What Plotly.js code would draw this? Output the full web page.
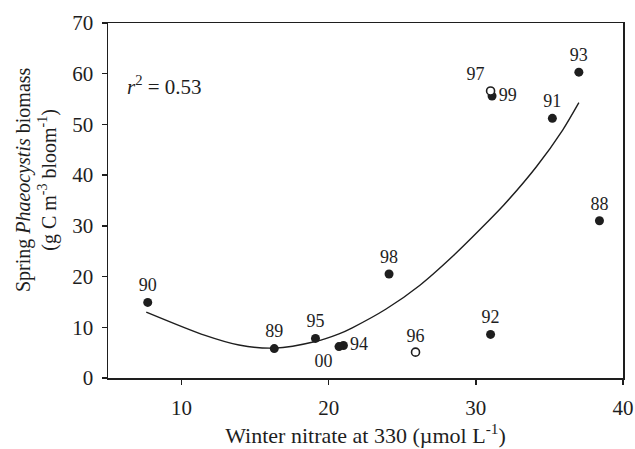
<!DOCTYPE html>
<html><head><meta charset="utf-8">
<script src="https://cdn.plot.ly/plotly-3.0.1.min.js"></script>
<style>html,body{margin:0;padding:0;background:#fff}</style>
</head><body><div id="chart" style="width:635px;height:449px"></div>
<script>
// Data
const years   = ['88','89','90','91','92','93','94','95','96','97','98','99','00'];
const nitrate = [38.4, 16.3, 7.7, 35.2, 31.0, 37.0, 21.0, 19.1, 25.9, 31.0, 24.1, 31.1, 20.7];
const biomass = [31.0, 5.8, 14.9, 51.2, 8.6, 60.3, 6.4, 7.8, 5.1, 56.6, 20.5, 55.6, 6.2];
const openYears = ['96', '97'];

// Fitted curve
const fitX = [7.6, 11.6, 13.9, 16.3, 19.1, 20.7, 21.6, 23.9, 26.2, 28.5, 30.7, 31.9, 34.1, 35.9, 37.0];
const fitY = [13.0, 8.4, 6.5, 5.9, 7.2, 8.7, 9.9, 13.6, 18.3, 24.2, 30.5, 34.1, 41.6, 48.9, 54.3];

const xTicks = [10, 20, 30, 40];
const yTicks = [0, 10, 20, 30, 40, 50, 60, 70];

// label placement (style)
const labelPos = {'88':'top center','89':'top center','90':'top center','91':'top center','92':'top center',
  '93':'top center','94':'middle right','95':'top center','96':'top center','97':'top left',
  '98':'top center','99':'middle right','00':'bottom left'};

const FONT = "'Liberation Serif', 'Times New Roman', serif";
const INK = '#1e1e1e';

function subset(isOpen) {
  const o = {x: [], y: [], t: [], p: []};
  years.forEach((yr, i) => {
    if (openYears.includes(yr) === isOpen) {
      o.x.push(nitrate[i]); o.y.push(biomass[i]); o.t.push(yr); o.p.push(labelPos[yr]);
    }
  });
  return o;
}
const filled = subset(false), open = subset(true);

const traces = [
  {x: fitX, y: fitY, mode: 'lines', line: {color: INK, width: 1.4, shape: 'spline', smoothing: 0.8}, hoverinfo: 'skip'},
  {x: filled.x, y: filled.y, text: filled.t, textposition: filled.p, mode: 'markers+text',
   marker: {size: 9, color: INK, line: {width: 0}},
   textfont: {family: FONT, size: 18, color: INK}},
  {x: open.x, y: open.y, text: open.t, textposition: open.p, mode: 'markers+text',
   marker: {size: 8, color: '#ffffff', line: {width: 1.6, color: INK}},
   textfont: {family: FONT, size: 18, color: INK}}
];

const layout = {
  width: 635, height: 449,
  margin: {l: 108, r: 12, t: 23, b: 71},
  paper_bgcolor: '#fff', plot_bgcolor: '#fff',
  showlegend: false,
  font: {family: FONT, color: INK, size: 20},
  xaxis: {
    range: [5, 40], tickvals: xTicks, ticks: 'outside', ticklen: 5, tickwidth: 1.5, tickcolor: INK,
    showline: true, linecolor: INK, linewidth: 1.5, mirror: true, showgrid: false, zeroline: false,
    tickfont: {family: FONT, size: 21, color: INK}, ticklabelstandoff: 5,
    title: {text: 'Winter nitrate at 330 (µmol L<sup>-1</sup>)', font: {family: FONT, size: 22, color: INK}, standoff: 6}
  },
  yaxis: {
    range: [0, 70], tickvals: yTicks, ticks: 'outside', ticklen: 5, tickwidth: 1.5, tickcolor: INK,
    showline: true, linecolor: INK, linewidth: 1.5, mirror: true, showgrid: false, zeroline: false,
    tickfont: {family: FONT, size: 21, color: INK}, ticklabelstandoff: 4
  },
  annotations: [
    {xref: 'paper', yref: 'paper', x: 0.033, y: 0.825, xanchor: 'left', yanchor: 'middle', showarrow: false,
     text: '<i>r</i><sup>2</sup> = 0.53', font: {family: FONT, size: 21, color: INK}},
    {xref: 'paper', yref: 'paper', x: -0.14, y: 0.56, xanchor: 'center', yanchor: 'middle', showarrow: false,
     textangle: -90, text: 'Spring <i>Phaeocystis</i> biomass<br>(g C m<sup>-3</sup> bloom<sup>-1</sup>)',
     font: {family: FONT, size: 20, color: INK}}
  ]
};

Plotly.newPlot('chart', traces, layout, {staticPlot: true, displayModeBar: false});
</script></body></html>
